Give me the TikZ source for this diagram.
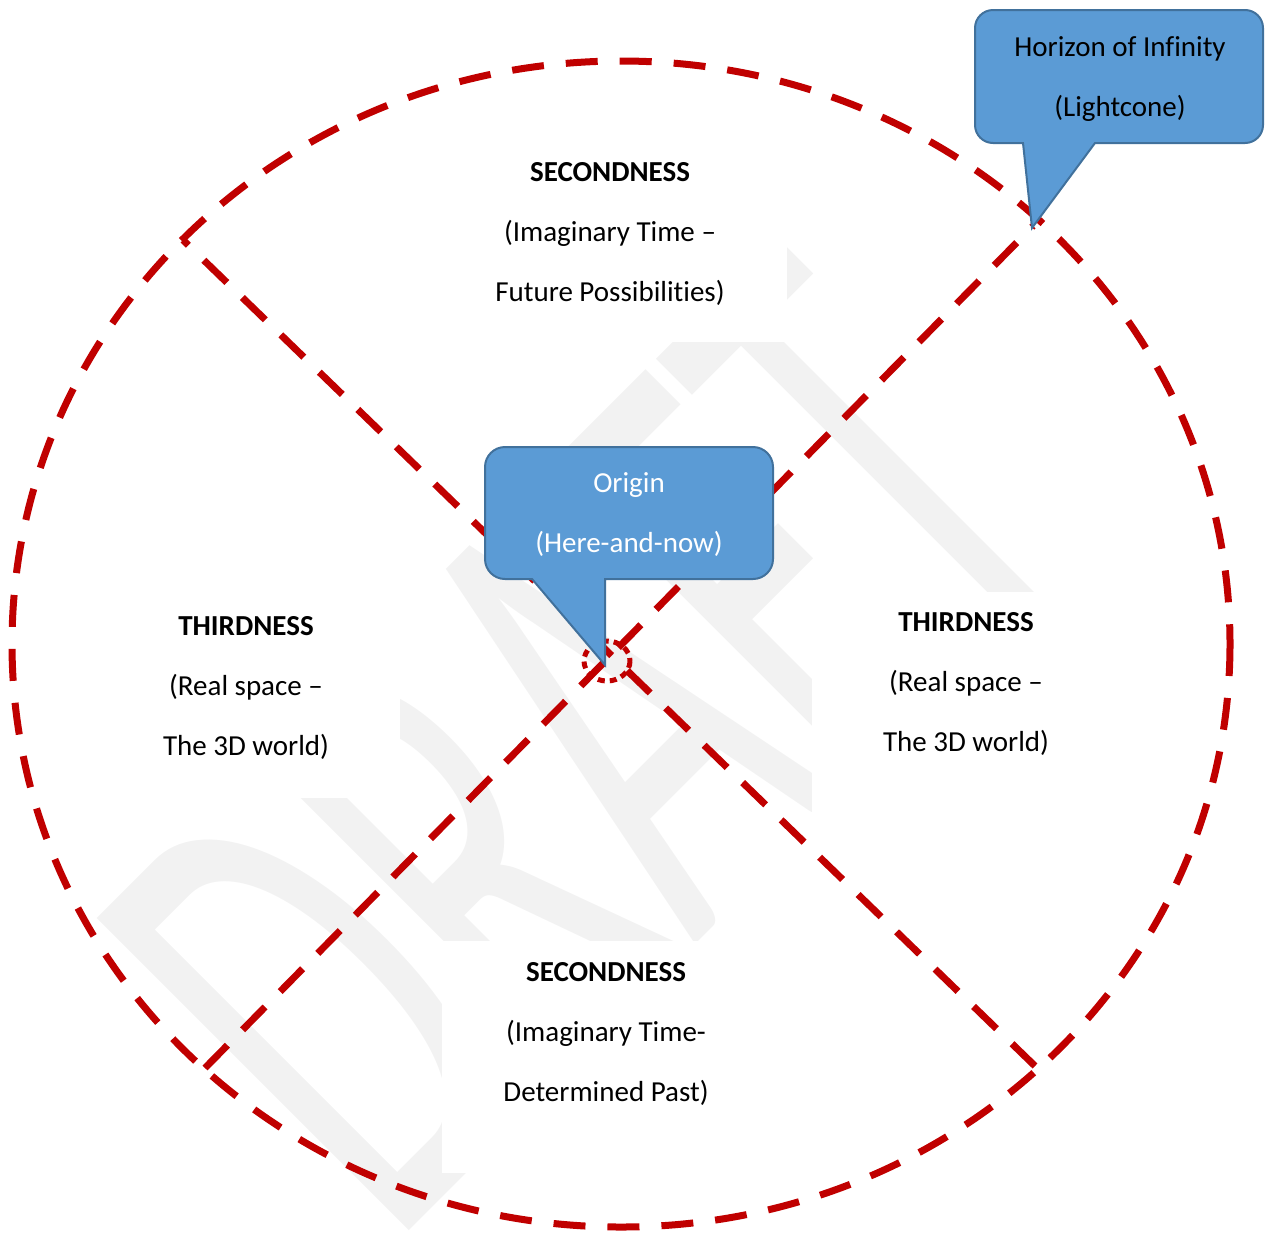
\documentclass[tikz,border=0pt]{standalone}
\usepackage{fontspec}
\setmainfont{Carlito}[Ligatures={NoCommon}]
\definecolor{dred}{HTML}{C00000}
\definecolor{cfill}{HTML}{5B9BD5}
\definecolor{cline}{HTML}{41719C}
\definecolor{wm}{HTML}{F2F2F2}
\begin{document}
\begin{tikzpicture}[x=1pt,y=-1pt,
  ring/.style={draw=dred, line width=7pt, dash pattern=on 32pt off 22pt},
  axis/.style={draw=dred, line width=7pt, dash pattern=on 32pt off 21.6pt},
  txt/.style={font=\fontsize{29}{60}\selectfont, align=center, inner sep=0pt},
  calloutbox/.style={fill=cfill, draw=cline, line width=2pt},
  mask/.style={fill=white}]
\useasboundingbox (0,0) rectangle (1265,1235);
\clip (0,0) rectangle (1265,1235);
% watermark
\node[text=wm, font=\fontsize{370}{370}\selectfont, anchor=base west, inner sep=0pt,
      rotate=45, yscale=1.86, transform shape] (wmark) at (391,1249) {DRAFT};
% white text boxes hiding the watermark
\fill[mask] (433,122) rectangle (787,342);
\fill[mask] (90,574) rectangle (400,798);
\fill[mask] (812,592) rectangle (1120,830);
\fill[mask] (442,941) rectangle (770,1173);
% horizon ellipse
\draw[ring] (621,644) ellipse [x radius=609, y radius=583];
% diagonals
\coordinate (l1a) at (183,240);
\coordinate (l1b) at (1035,1066);
\coordinate (l2a) at (205,1068);
\coordinate (l2b) at (1033,226);
\draw[axis] (l1b) -- (l1a);
\draw[axis] (l2a) -- (l2b);
% origin circle
\draw[dred, line width=5pt, dash pattern=on 7pt off 5pt] (607,661) ellipse [x radius=23, y radius=20];
% texts
\node[txt] (sec1) at (610,234) {\textbf{SECONDNESS}\\(Imaginary Time –\\Future Possibilities)};
\node[txt] (thr1) at (246,688) {\textbf{THIRDNESS}\\(Real space –\\The 3D world)};
\node[txt] (thr2) at (966,684) {\textbf{THIRDNESS}\\(Real space –\\The 3D world)};
\node[txt] (sec2) at (606,1034) {\textbf{SECONDNESS}\\(Imaginary Time-\\Determined Past)};
% horizon callout
\draw[calloutbox] (1032,228) -- (1023,143) -- (993,143)
  arc[start angle=90, end angle=180, radius=18] -- (975,28)
  arc[start angle=180, end angle=270, radius=18] -- (1245,10)
  arc[start angle=270, end angle=360, radius=18] -- (1263,125)
  arc[start angle=0, end angle=90, radius=18] -- (1095,143) -- cycle;
\node[txt] (horizon) at (1120,79) {Horizon of Infinity\\(Lightcone)};
% origin callout
\draw[calloutbox] (605,665) -- (605,579) -- (753,579)
  arc[start angle=90, end angle=0, radius=20] -- (773,467)
  arc[start angle=0, end angle=-90, radius=20] -- (505,447)
  arc[start angle=270, end angle=180, radius=20] -- (485,559)
  arc[start angle=180, end angle=90, radius=20] -- (532,579) -- cycle;
\node[txt, text=white] (origin) at (629,515) {Origin\\(Here-and-now)};
\end{tikzpicture}
\end{document}
